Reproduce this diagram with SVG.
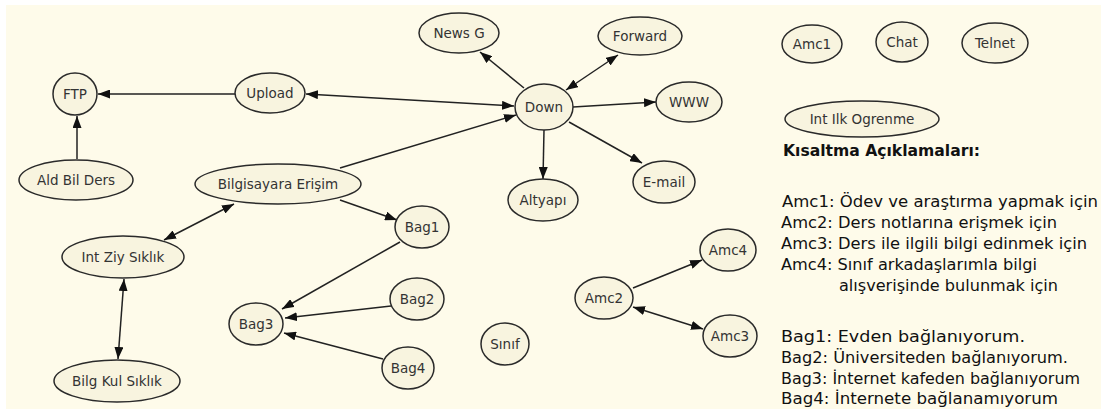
<svg xmlns="http://www.w3.org/2000/svg" width="1101" height="409" viewBox="0 0 1101 409">
<style>
.n ellipse{fill:#f8f4df;stroke:#2a2a2a;stroke-width:1.5}
.n text{font-family:"DejaVu Sans","Liberation Sans",sans-serif;font-size:13.5px;fill:#333;text-anchor:middle}
.c line{stroke:#222;stroke-width:1.5;marker-end:url(#ah)}
.c line.d{marker-start:url(#ah)}
.t{font-family:"DejaVu Sans","Liberation Sans",sans-serif;font-size:16px;fill:#111}
.b{font-weight:bold}
</style>
<defs>
<marker id="ah" viewBox="0 0 12 9" refX="12" refY="4.5" markerWidth="12" markerHeight="9" markerUnits="userSpaceOnUse" orient="auto-start-reverse">
<path d="M0,0 L12,4.5 L0,9 z" fill="#111"/>
</marker>
</defs>
<rect width="1101" height="409" fill="#ffffff"/>
<rect x="6" y="5" width="1095" height="404" fill="#fefbea"/>
<g class="c" id="connectors">
<line x1="235" y1="94" x2="98" y2="94"/>
<line x1="77" y1="159" x2="77" y2="116"/>
<line class="d" x1="306" y1="94" x2="514" y2="106"/>
<line x1="340" y1="168" x2="516" y2="115"/>
<line x1="524" y1="88" x2="480" y2="52"/>
<line class="d" x1="566" y1="90" x2="618" y2="55"/>
<line x1="573" y1="107" x2="656" y2="102"/>
<line x1="569" y1="122" x2="642" y2="163"/>
<line x1="544" y1="130" x2="543" y2="179"/>
<line x1="340" y1="200" x2="397" y2="220"/>
<line x1="400" y1="242" x2="282" y2="309"/>
<line x1="391" y1="306" x2="285" y2="318"/>
<line x1="383" y1="359" x2="284" y2="333"/>
<line class="d" x1="164" y1="240" x2="234" y2="204"/>
<line class="d" x1="124" y1="279" x2="118" y2="359"/>
<line x1="633" y1="288" x2="702" y2="260"/>
<line class="d" x1="633" y1="307" x2="703" y2="329"/>
</g>
<g class="n" id="ftp"><ellipse cx="75" cy="94" rx="22" ry="21"/><text x="75" y="99">FTP</text></g>
<g class="n" id="upload"><ellipse cx="270" cy="93" rx="35" ry="20"/><text x="270" y="98">Upload</text></g>
<g class="n" id="ald"><ellipse cx="76" cy="180" rx="57" ry="20"/><text x="76" y="185">Ald Bil Ders</text></g>
<g class="n" id="bilg"><ellipse cx="278" cy="184" rx="83" ry="20"/><text x="278" y="189">Bilgisayara Erişim</text></g>
<g class="n" id="newsg"><ellipse cx="459" cy="33" rx="40" ry="20"/><text x="459" y="38">News G</text></g>
<g class="n" id="forward"><ellipse cx="640" cy="36" rx="42" ry="19"/><text x="640" y="41">Forward</text></g>
<g class="n" id="down"><ellipse cx="544" cy="107" rx="29" ry="23"/><text x="544" y="112">Down</text></g>
<g class="n" id="www"><ellipse cx="689" cy="102" rx="33" ry="20"/><text x="689" y="107">WWW</text></g>
<g class="n" id="email"><ellipse cx="664" cy="182" rx="31" ry="21"/><text x="664" y="187">E-mail</text></g>
<g class="n" id="altyapi"><ellipse cx="543" cy="200" rx="35" ry="21"/><text x="543" y="205">Altyapı</text></g>
<g class="n" id="amc1"><ellipse cx="812" cy="44" rx="30" ry="19"/><text x="812" y="49">Amc1</text></g>
<g class="n" id="chat"><ellipse cx="902" cy="42" rx="26" ry="20"/><text x="902" y="47">Chat</text></g>
<g class="n" id="telnet"><ellipse cx="995" cy="43" rx="33" ry="20"/><text x="995" y="48">Telnet</text></g>
<g class="n" id="intilk"><ellipse cx="862" cy="119" rx="77" ry="18"/><text x="862" y="124">Int Ilk Ogrenme</text></g>
<g class="n" id="intziy"><ellipse cx="123" cy="257" rx="61" ry="21"/><text x="123" y="262">Int Ziy Sıklık</text></g>
<g class="n" id="bilgkul"><ellipse cx="117" cy="381" rx="63" ry="21"/><text x="117" y="386">Bilg Kul Sıklık</text></g>
<g class="n" id="bag1"><ellipse cx="422" cy="227" rx="27" ry="21"/><text x="422" y="232">Bag1</text></g>
<g class="n" id="bag2"><ellipse cx="417" cy="299" rx="27" ry="21"/><text x="417" y="304">Bag2</text></g>
<g class="n" id="bag3"><ellipse cx="256" cy="324" rx="27" ry="21"/><text x="256" y="329">Bag3</text></g>
<g class="n" id="bag4"><ellipse cx="408" cy="368" rx="26" ry="21"/><text x="408" y="373">Bag4</text></g>
<g class="n" id="sinif"><ellipse cx="505" cy="344" rx="24" ry="21"/><text x="505" y="349">Sınıf</text></g>
<g class="n" id="amc2"><ellipse cx="604" cy="298" rx="29" ry="21"/><text x="604" y="303">Amc2</text></g>
<g class="n" id="amc4"><ellipse cx="728" cy="250" rx="28" ry="21"/><text x="728" y="255">Amc4</text></g>
<g class="n" id="amc3"><ellipse cx="730" cy="336" rx="27" ry="21"/><text x="730" y="341">Amc3</text></g>
<g id="legend">
<text class="t b" x="783" y="156" textLength="197" lengthAdjust="spacingAndGlyphs">Kısaltma Açıklamaları:</text>
<text class="t" x="782" y="207" textLength="316" lengthAdjust="spacingAndGlyphs">Amc1: Ödev ve araştırma yapmak için</text>
<text class="t" x="781" y="228" textLength="276" lengthAdjust="spacingAndGlyphs">Amc2: Ders notlarına erişmek için</text>
<text class="t" x="781" y="249" textLength="306" lengthAdjust="spacingAndGlyphs">Amc3: Ders ile ilgili bilgi edinmek için</text>
<text class="t" x="781" y="270" textLength="256" lengthAdjust="spacingAndGlyphs">Amc4: Sınıf arkadaşlarımla bilgi</text>
<text class="t" x="839" y="291" textLength="219" lengthAdjust="spacingAndGlyphs">alışverişinde bulunmak için</text>
<text class="t" x="781" y="342" textLength="244" lengthAdjust="spacingAndGlyphs">Bag1: Evden bağlanıyorum.</text>
<text class="t" x="781" y="363" textLength="287" lengthAdjust="spacingAndGlyphs">Bag2: Üniversiteden bağlanıyorum.</text>
<text class="t" x="781" y="384" textLength="299" lengthAdjust="spacingAndGlyphs">Bag3: İnternet kafeden bağlanıyorum</text>
<text class="t" x="781" y="404" textLength="277" lengthAdjust="spacingAndGlyphs">Bag4: İnternete bağlanamıyorum</text>
</g>
</svg>
